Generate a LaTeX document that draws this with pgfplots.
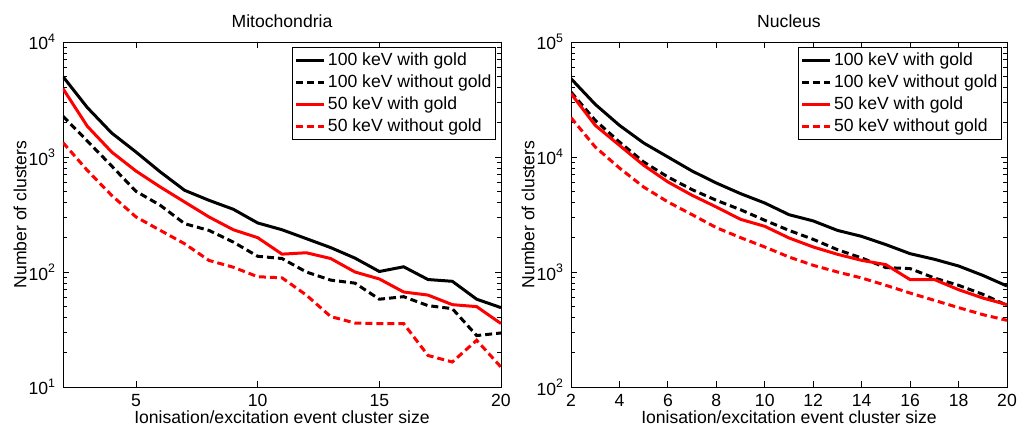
\documentclass[border=0pt]{standalone}
\usepackage{fontspec}
\setmainfont{Liberation Sans}
\usepackage{pgfplots}
\usepackage{pgfplotstable}
\pgfplotsset{compat=1.18}

% cluster size, 100 keV with / without gold, 50 keV with / without gold
\pgfplotstableread{
x  hg    hn    lg    ln
2  5000  2260  3930  1333
3  2690  1377  1850  765
4  1617  835   1105  464
5  1105  503   755   301
6  741   380   548   230
7  513   263   406   176
8  420   230   301   126
9  351   182   233   110
10 267   137   199   91
11 233   131   143   89
12 195   100   147   63
13 163   85    131   41
14 132   80    100   36
15 101   58    87    35.6
16 111   61    67    35.6
17 86    51    63    18.8
18 83    48    52    16.5
19 58    28    50    25.5
20 49    29.5  35.6  14.9
}\mito

\pgfplotstableread{
x  hg     hn     lg     ln
2  48000  36700  35600  22000
3  28700  20830  18850  12220
4  18850  13500  12630  8020
5  13240  9050   8470   5480
6  10000  6700   6070   4065
7  7550   5200   4645   3150
8  5940   4200   3675   2430
9  4800   3480   2870   1990
10 3980   2815   2495   1650
11 3150   2300   1977   1350
12 2780   1923   1650   1143
13 2300   1563   1425   1000
14 2040   1324   1262   887
15 1730   1092   1158   766
16 1443   1070   858    656
17 1290   887    860    567
18 1128   766    702    490
19 935    640    594    426
20 755    513    520    380
}\nucl

\pgfplotsset{
  clusterplot/.style={
    scale only axis,
    anchor=south west,
    height=172.5pt,
    xmin=2, xmax=20,
    font=\fontsize{8.8}{10.5}\selectfont,
    axis line style={draw=black,line width=0.4pt},
    tick style={draw=black,line width=0.4pt},
    major tick length=3pt,
    minor tick length=1.8pt,
    tick align=inside,
    /pgf/number format/assume math mode=true,
    xlabel={Ionisation/excitation event cluster size},
    ylabel={Number of clusters},
    xlabel style={at={(axis description cs:0.5,0)},anchor=center,yshift=-15pt},
    ylabel style={at={(axis description cs:-0.098,0.5)},anchor=center},
    title style={at={(axis description cs:0.5,1)},anchor=center,yshift=4.5pt},
    legend cell align=left,
    legend style={at={(axis description cs:0.989,0.985)},anchor=north east,
      draw=black,line width=0.4pt,inner sep=1pt,row sep=0pt,
      font=\fontsize{8.8}{11}\selectfont,
      nodes={inner sep=1.2pt,text height=6.6pt,text depth=2pt}},
    legend image code/.code={\draw[##1] (0pt,0pt) -- (14pt,0pt);},
  },
  withgold/.style={line width=1.5pt},
  nogold/.style={line width=1.5pt,dash pattern=on 3.5pt off 2pt},
}

\begin{document}
\begin{tikzpicture}
\path[use as bounding box] (0,0) rectangle (509pt,212pt);

\begin{axis}[ymode=log,clusterplot,
  at={(31.5pt,18.5pt)}, width=219pt,
  ymin=10, ymax=10000,
  xtick={5,10,15,20},
  ytick={10,100,1000,10000},
  yticklabels={10\textsuperscript{1},10\textsuperscript{2},10\textsuperscript{3},10\textsuperscript{4}},
  minor ytick={20,30,40,50,60,70,80,90,200,300,400,500,600,700,800,900,2000,3000,4000,5000,6000,7000,8000,9000},
  title={Mitochondria}]
  \addplot[withgold,black] table[x=x,y=hg] {\mito};
  \addlegendentry{100 keV with gold}
  \addplot[nogold,black] table[x=x,y=hn] {\mito};
  \addlegendentry{100 keV without gold}
  \addplot[withgold,red] table[x=x,y=lg] {\mito};
  \addlegendentry{50 keV with gold}
  \addplot[nogold,red] table[x=x,y=ln] {\mito};
  \addlegendentry{50 keV without gold}
\end{axis}

\begin{axis}[ymode=log,clusterplot,
  at={(285.5pt,18.5pt)}, width=218pt,
  ymin=100, ymax=100000,
  xtick={2,4,...,20},
  ytick={100,1000,10000,100000},
  yticklabels={10\textsuperscript{2},10\textsuperscript{3},10\textsuperscript{4},10\textsuperscript{5}},
  minor ytick={200,300,400,500,600,700,800,900,2000,3000,4000,5000,6000,7000,8000,9000,20000,30000,40000,50000,60000,70000,80000,90000},
  ylabel style={at={(axis description cs:-0.0986,0.5)}},
  title={Nucleus}]
  \addplot[withgold,black] table[x=x,y=hg] {\nucl};
  \addlegendentry{100 keV with gold}
  \addplot[nogold,black] table[x=x,y=hn] {\nucl};
  \addlegendentry{100 keV without gold}
  \addplot[withgold,red] table[x=x,y=lg] {\nucl};
  \addlegendentry{50 keV with gold}
  \addplot[nogold,red] table[x=x,y=ln] {\nucl};
  \addlegendentry{50 keV without gold}
\end{axis}
\end{tikzpicture}
\end{document}
